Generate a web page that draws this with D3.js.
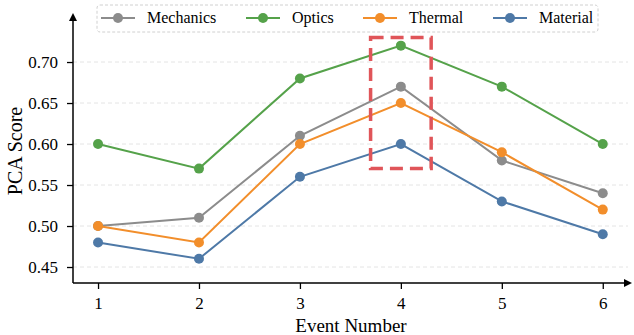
<!DOCTYPE html>
<html>
<head>
  <meta charset="utf-8">
  <title>PCA Score chart</title>
  <script src="https://d3js.org/d3.v7.min.js"></script>
  <style>
    body { margin: 0; background: #fff; }
    text { font-family: "Liberation Serif", "Times New Roman", serif; }
  </style>
</head>
<body>
<script>
var events = [1, 2, 3, 4, 5, 6];
var mechanics = [0.50, 0.51, 0.61, 0.67, 0.58, 0.54];
var optics    = [0.60, 0.57, 0.68, 0.72, 0.67, 0.60];
var thermal   = [0.50, 0.48, 0.60, 0.65, 0.59, 0.52];
var material  = [0.48, 0.46, 0.56, 0.60, 0.53, 0.49];
var yTicks = [0.45, 0.50, 0.55, 0.60, 0.65, 0.70];
var highlight = { x0: 3.7, x1: 4.3, y0: 0.57, y1: 0.73 };

var series = [
  { name: 'Mechanics', values: mechanics, color: '#8c8c8c' },
  { name: 'Optics', values: optics, color: '#55a24a' },
  { name: 'Thermal', values: thermal, color: '#f28e2b' },
  { name: 'Material', values: material, color: '#4e79a7' }
];

var width = 634, height = 335;
var margin = { left: 73, right: 6, top: 18, bottom: 52 };

var svg = d3.select('body').append('svg').attr('width', width).attr('height', height);

var x = d3.scaleLinear().domain([0.752, 6.25]).range([margin.left, width - margin.right]);
var y = d3.scaleLinear().domain([0.4305, 0.7537]).range([height - margin.bottom, margin.top]);

// grid
svg.append('g').selectAll('line').data(yTicks).enter().append('line')
  .attr('x1', margin.left).attr('x2', width - margin.right)
  .attr('y1', function (d) { return y(d); }).attr('y2', function (d) { return y(d); })
  .attr('stroke', '#dddddd').attr('stroke-width', 0.8).attr('stroke-dasharray', '4,3');

// axes
var xAxis = svg.append('g').attr('transform', 'translate(0,' + (height - margin.bottom) + ')')
  .call(d3.axisBottom(x).tickValues(events).tickFormat(d3.format('d')).tickSize(6).tickSizeOuter(0).tickPadding(8));
var yAxis = svg.append('g').attr('transform', 'translate(' + margin.left + ',0)')
  .call(d3.axisLeft(y).tickValues(yTicks).tickFormat(d3.format('.2f')).tickSize(6).tickSizeOuter(0).tickPadding(9));

[xAxis, yAxis].forEach(function (a) {
  a.attr('font-family', null).attr('font-size', null);
  a.select('.domain').remove();
  a.selectAll('.tick line').attr('stroke', '#000').attr('stroke-width', 1.3);
  a.selectAll('.tick text').attr('fill', '#000').style('font-size', '17px')
    .style('font-family', '"Liberation Serif", serif');
});

var bottom = height - margin.bottom;
svg.append('line').attr('x1', margin.left).attr('x2', width - 8)
  .attr('y1', bottom).attr('y2', bottom).attr('stroke', '#000').attr('stroke-width', 1.5);
svg.append('line').attr('x1', margin.left).attr('x2', margin.left)
  .attr('y1', bottom).attr('y2', 20).attr('stroke', '#000').attr('stroke-width', 1.5);
svg.append('path').attr('d', 'M' + (width - 2) + ',' + bottom + 'l-8,-4v8z').attr('fill', '#000');
svg.append('path').attr('d', 'M' + margin.left + ',13l-4,8h8z').attr('fill', '#000');

// lines
var line = d3.line().x(function (d, i) { return x(events[i]); }).y(function (d) { return y(d); });
series.forEach(function (s) {
  var g = svg.append('g');
  g.append('path').attr('d', line(s.values)).attr('fill', 'none')
    .attr('stroke', s.color).attr('stroke-width', 2);
  g.selectAll('circle').data(s.values).enter().append('circle')
    .attr('cx', function (d, i) { return x(events[i]); })
    .attr('cy', function (d) { return y(d); })
    .attr('r', 5).attr('fill', s.color);
});

// highlight box
svg.append('rect')
  .attr('x', x(highlight.x0)).attr('y', y(highlight.y1))
  .attr('width', x(highlight.x1) - x(highlight.x0))
  .attr('height', y(highlight.y0) - y(highlight.y1))
  .attr('fill', 'none').attr('stroke', '#e05559').attr('stroke-width', 3.5)
  .attr('stroke-dasharray', '13,7');

// labels
svg.append('text').attr('x', 351).attr('y', 332)
  .attr('text-anchor', 'middle').style('font-size', '19px').text('Event Number');
svg.append('text').attr('transform', 'translate(22,' + 151 + ') rotate(-90)')
  .attr('text-anchor', 'middle').style('font-size', '20px').text('PCA Score');

// legend
var legend = svg.append('g');
legend.append('rect').attr('x', 97).attr('y', 5).attr('width', 501).attr('height', 27).attr('rx', 3)
  .attr('fill', '#fff').attr('fill-opacity', 0.8).attr('stroke', '#d0d0d0').attr('stroke-dasharray', '3,2');
var legendX = [101, 246, 363, 493];
series.forEach(function (s, i) {
  var lg = legend.append('g').attr('transform', 'translate(' + legendX[i] + ',18)');
  lg.append('line').attr('x1', 0).attr('x2', 34).attr('stroke', s.color).attr('stroke-width', 2);
  lg.append('circle').attr('cx', 17).attr('r', 5).attr('fill', s.color);
  lg.append('text').attr('x', 46).attr('y', 5).style('font-size', '16px').text(s.name);
});
</script>
</body>
</html>
